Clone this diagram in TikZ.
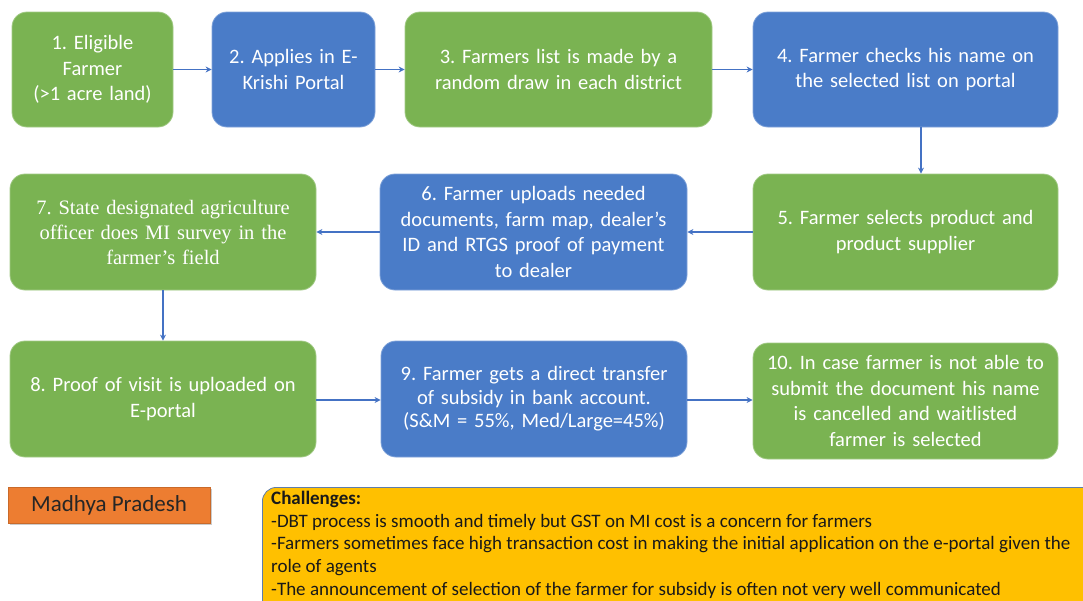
\documentclass[tikz,border=0pt]{standalone}
\usepackage{fontspec}
\setmainfont{Carlito}
\newfontfamily\timesf{Liberation Serif}
\usetikzlibrary{arrows.meta}
\frenchspacing
\definecolor{bgreen}{RGB}{122,179,82}
\definecolor{bblue}{RGB}{74,124,200}
\definecolor{borange}{RGB}{237,125,49}
\definecolor{bgold}{RGB}{255,192,0}
\definecolor{bline}{RGB}{68,114,196}
\tikzset{
  stepbox/.style={rounded corners=15pt, text=white, align=center, inner sep=0pt,
    font=\fontsize{20.5}{25.7}\selectfont, line width=0.8pt},
  greenbox/.style={stepbox, fill=bgreen, draw=bgreen!70!white},
  bluebox/.style={stepbox, fill=bblue, draw=bblue!70!white},
  conn/.style={draw=bline, line width=1.6pt, -{Stealth[length=6pt,width=6pt]}},
}
\begin{document}
\frenchspacing
\begin{tikzpicture}[x=1pt,y=-1pt]
\useasboundingbox (0,0) rectangle (1083,600);
\clip (0,0) rectangle (1083,600);
% row 1
\node[greenbox, minimum width=161pt, minimum height=115pt, text width=150pt] (n1) at (92.5,69.5) {1. Eligible\\Farmer\\(>1 acre land)};
\node[bluebox, minimum width=163pt, minimum height=115pt, text width=155pt] (n2) at (293.5,69.5) {2. Applies in E-\\Krishi Portal};
\node[greenbox, minimum width=307pt, minimum height=115pt, text width=295pt] (n3) at (558.5,69.5) {3. Farmers list is made by a\\random draw in each district};
\node[bluebox, minimum width=305pt, minimum height=115pt, text width=295pt] (n4) at (905.5,69.5) {4. Farmer checks his name on\\the selected list on portal};
% row 2
\node[greenbox, minimum width=305pt, minimum height=116pt, text width=295pt] (n5) at (905.5,232) {5. Farmer selects product and\\product supplier};
\node[bluebox, minimum width=307pt, minimum height=116pt, text width=295pt] (n6) at (533.5,232) {6. Farmer uploads needed\\documents, farm map, dealer’s\\ID and RTGS proof of payment\\to dealer};
\node[greenbox, minimum width=306pt, minimum height=116pt, text width=295pt, font=\timesf\fontsize{20.5}{25}\selectfont] (n7) at (163,232) {7. State designated agriculture\\officer does MI survey in the\\farmer’s field};
% row 3
\node[greenbox, minimum width=306pt, minimum height=116pt, text width=295pt] (n8) at (163,399) {8. Proof of visit is uploaded on\\E-portal};
\node[bluebox, minimum width=306pt, minimum height=116pt, text width=295pt, font=\fontsize{20.5}{23.5}\selectfont] (n9) at (534,399) {9. Farmer gets a direct transfer\\of subsidy in bank account.\\(S\&M = 55\%, Med/Large=45\%)};
\node[greenbox, minimum width=305pt, minimum height=116pt, text width=295pt] (n10) at (905.5,401) {10. In case farmer is not able to\\submit the document his name\\is cancelled and waitlisted\\farmer is selected};
% connectors
\draw[conn] (n1) -- (n2);
\draw[conn] (n2) -- (n3);
\draw[conn] (n3) -- (n4);
\draw[conn] (n4.south -| 921,0) -- (n5.north -| 921,0);
\draw[conn] (n5) -- (n6);
\draw[conn] (n6) -- (n7);
\draw[conn] (n7) -- (n8);
\draw[conn] (n8.east |- 0,400) -- (n9.west |- 0,400);
\draw[conn] (n9.east |- 0,400) -- (n10.west |- 0,400);
% bottom
\fill[black!20] (10,489) rectangle (212,525);
\node[fill=borange, draw=borange!85!black, line width=0.4pt, minimum width=202pt, minimum height=36pt, inner sep=0pt, font=\fontsize{23}{26}\selectfont, text=black!85] (mp) at (109,505) {Madhya Pradesh};
\node[fill=bgold, draw=bblue!60!gray, line width=0.8pt, rounded corners=14pt, minimum width=840pt, minimum height=140pt, anchor=north west, inner sep=0pt] (ch) at (262,487) {};
\node[anchor=north west, align=left, inner sep=0pt, text=black!90, font=\fontsize{19}{22.7}\selectfont] (cht) at (271,491) {\textbf{Challenges:}\\-DBT process is smooth and timely but GST on MI cost is a concern for farmers\\-Farmers sometimes face high transaction cost in making the initial application on the e-portal given the\\role of agents\\-The announcement of selection of the farmer for subsidy is often not very well communicated};
\end{tikzpicture}
\end{document}
